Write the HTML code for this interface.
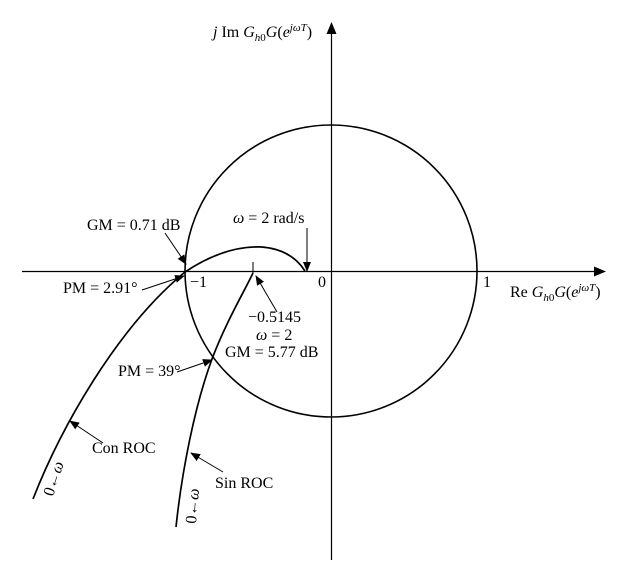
<!DOCTYPE html>
<html><head><meta charset="utf-8"><style>
html,body{margin:0;padding:0;background:#fff;}
svg{display:block;}
text{font-family:"Liberation Serif",serif;font-size:16px;fill:#000;}
</style></head><body>
<svg width="635" height="571" viewBox="0 0 635 571" xmlns="http://www.w3.org/2000/svg">
<defs>
<marker id="a" markerWidth="10" markerHeight="8" refX="9" refY="4" orient="auto" markerUnits="userSpaceOnUse">
<path d="M0,0 L10,4 L0,8 z" fill="#000"/></marker>
</defs>
<!-- axes -->
<line x1="22" y1="271.5" x2="596" y2="271.5" stroke="#000" stroke-width="1.2"/>
<path d="M606,271.5 L594,266.5 L594,276.5 z" fill="#000"/>
<line x1="331.5" y1="32" x2="331.5" y2="560" stroke="#000" stroke-width="1.2"/>
<path d="M331.5,22 L326.5,34 L336.5,34 z" fill="#000"/>
<!-- unit circle -->
<circle cx="331" cy="271" r="146" fill="none" stroke="#000" stroke-width="1.6"/>
<!-- Con ROC curve -->
<path d="M33,499 C60,430 115,330 185,272 C215,252 240,246 262,247 C285,249 298,260 305,271" fill="none" stroke="#000" stroke-width="1.7"/>
<!-- Sin ROC curve -->
<path d="M176,527 C182,470 195,405 212,359 C226,322 244,292 253,273" fill="none" stroke="#000" stroke-width="1.7"/>
<line x1="253" y1="273" x2="253" y2="262" stroke="#000" stroke-width="1"/>
<!-- arrows -->
<line x1="165" y1="233" x2="186" y2="264" stroke="#000" stroke-width="1" marker-end="url(#a)"/>
<line x1="307" y1="228" x2="307" y2="271" stroke="#000" stroke-width="1" marker-end="url(#a)"/>
<line x1="142" y1="290" x2="184" y2="276" stroke="#000" stroke-width="1" marker-end="url(#a)"/>
<line x1="277" y1="312" x2="256" y2="276" stroke="#000" stroke-width="1" marker-end="url(#a)"/>
<line x1="177" y1="372" x2="212" y2="360" stroke="#000" stroke-width="1" marker-end="url(#a)"/>
<line x1="103" y1="443" x2="70" y2="421" stroke="#000" stroke-width="1" marker-end="url(#a)"/>
<line x1="223" y1="472" x2="191" y2="453" stroke="#000" stroke-width="1" marker-end="url(#a)"/>
<!-- labels -->
<text x="213" y="37"><tspan font-style="italic">j</tspan> Im <tspan font-style="italic">G</tspan><tspan font-style="italic" font-size="11" dy="4">h</tspan><tspan font-size="11">0</tspan><tspan font-style="italic" dy="-4">G</tspan>(<tspan font-style="italic">e</tspan><tspan font-style="italic" font-size="11" dy="-6">jωT</tspan><tspan dy="6">)</tspan></text>
<text x="510" y="297">Re <tspan font-style="italic">G</tspan><tspan font-style="italic" font-size="11" dy="4">h</tspan><tspan font-size="11">0</tspan><tspan font-style="italic" dy="-4">G</tspan>(<tspan font-style="italic">e</tspan><tspan font-style="italic" font-size="11" dy="-6">jωT</tspan><tspan dy="6">)</tspan></text>
<text x="87" y="230">GM = 0.71 dB</text>
<text x="233" y="223"><tspan font-style="italic">ω</tspan> = 2 rad/s</text>
<text x="63" y="293">PM = 2.91°</text>
<text x="190" y="287">−1</text>
<text x="318" y="287">0</text>
<text x="483" y="287">1</text>
<text x="248" y="322">−0.5145</text>
<text x="256" y="340"><tspan font-style="italic">ω</tspan> = 2</text>
<text x="225" y="357">GM = 5.77 dB</text>
<text x="118" y="376">PM = 39°</text>
<text x="92" y="453">Con ROC</text>
<text x="215" y="488">Sin ROC</text>
<text transform="translate(53,497) rotate(-72)"><tspan>0←</tspan><tspan font-style="italic">ω</tspan></text>
<text transform="translate(196,524) rotate(-85)"><tspan>0←</tspan><tspan font-style="italic">ω</tspan></text>
</svg>
</body></html>
